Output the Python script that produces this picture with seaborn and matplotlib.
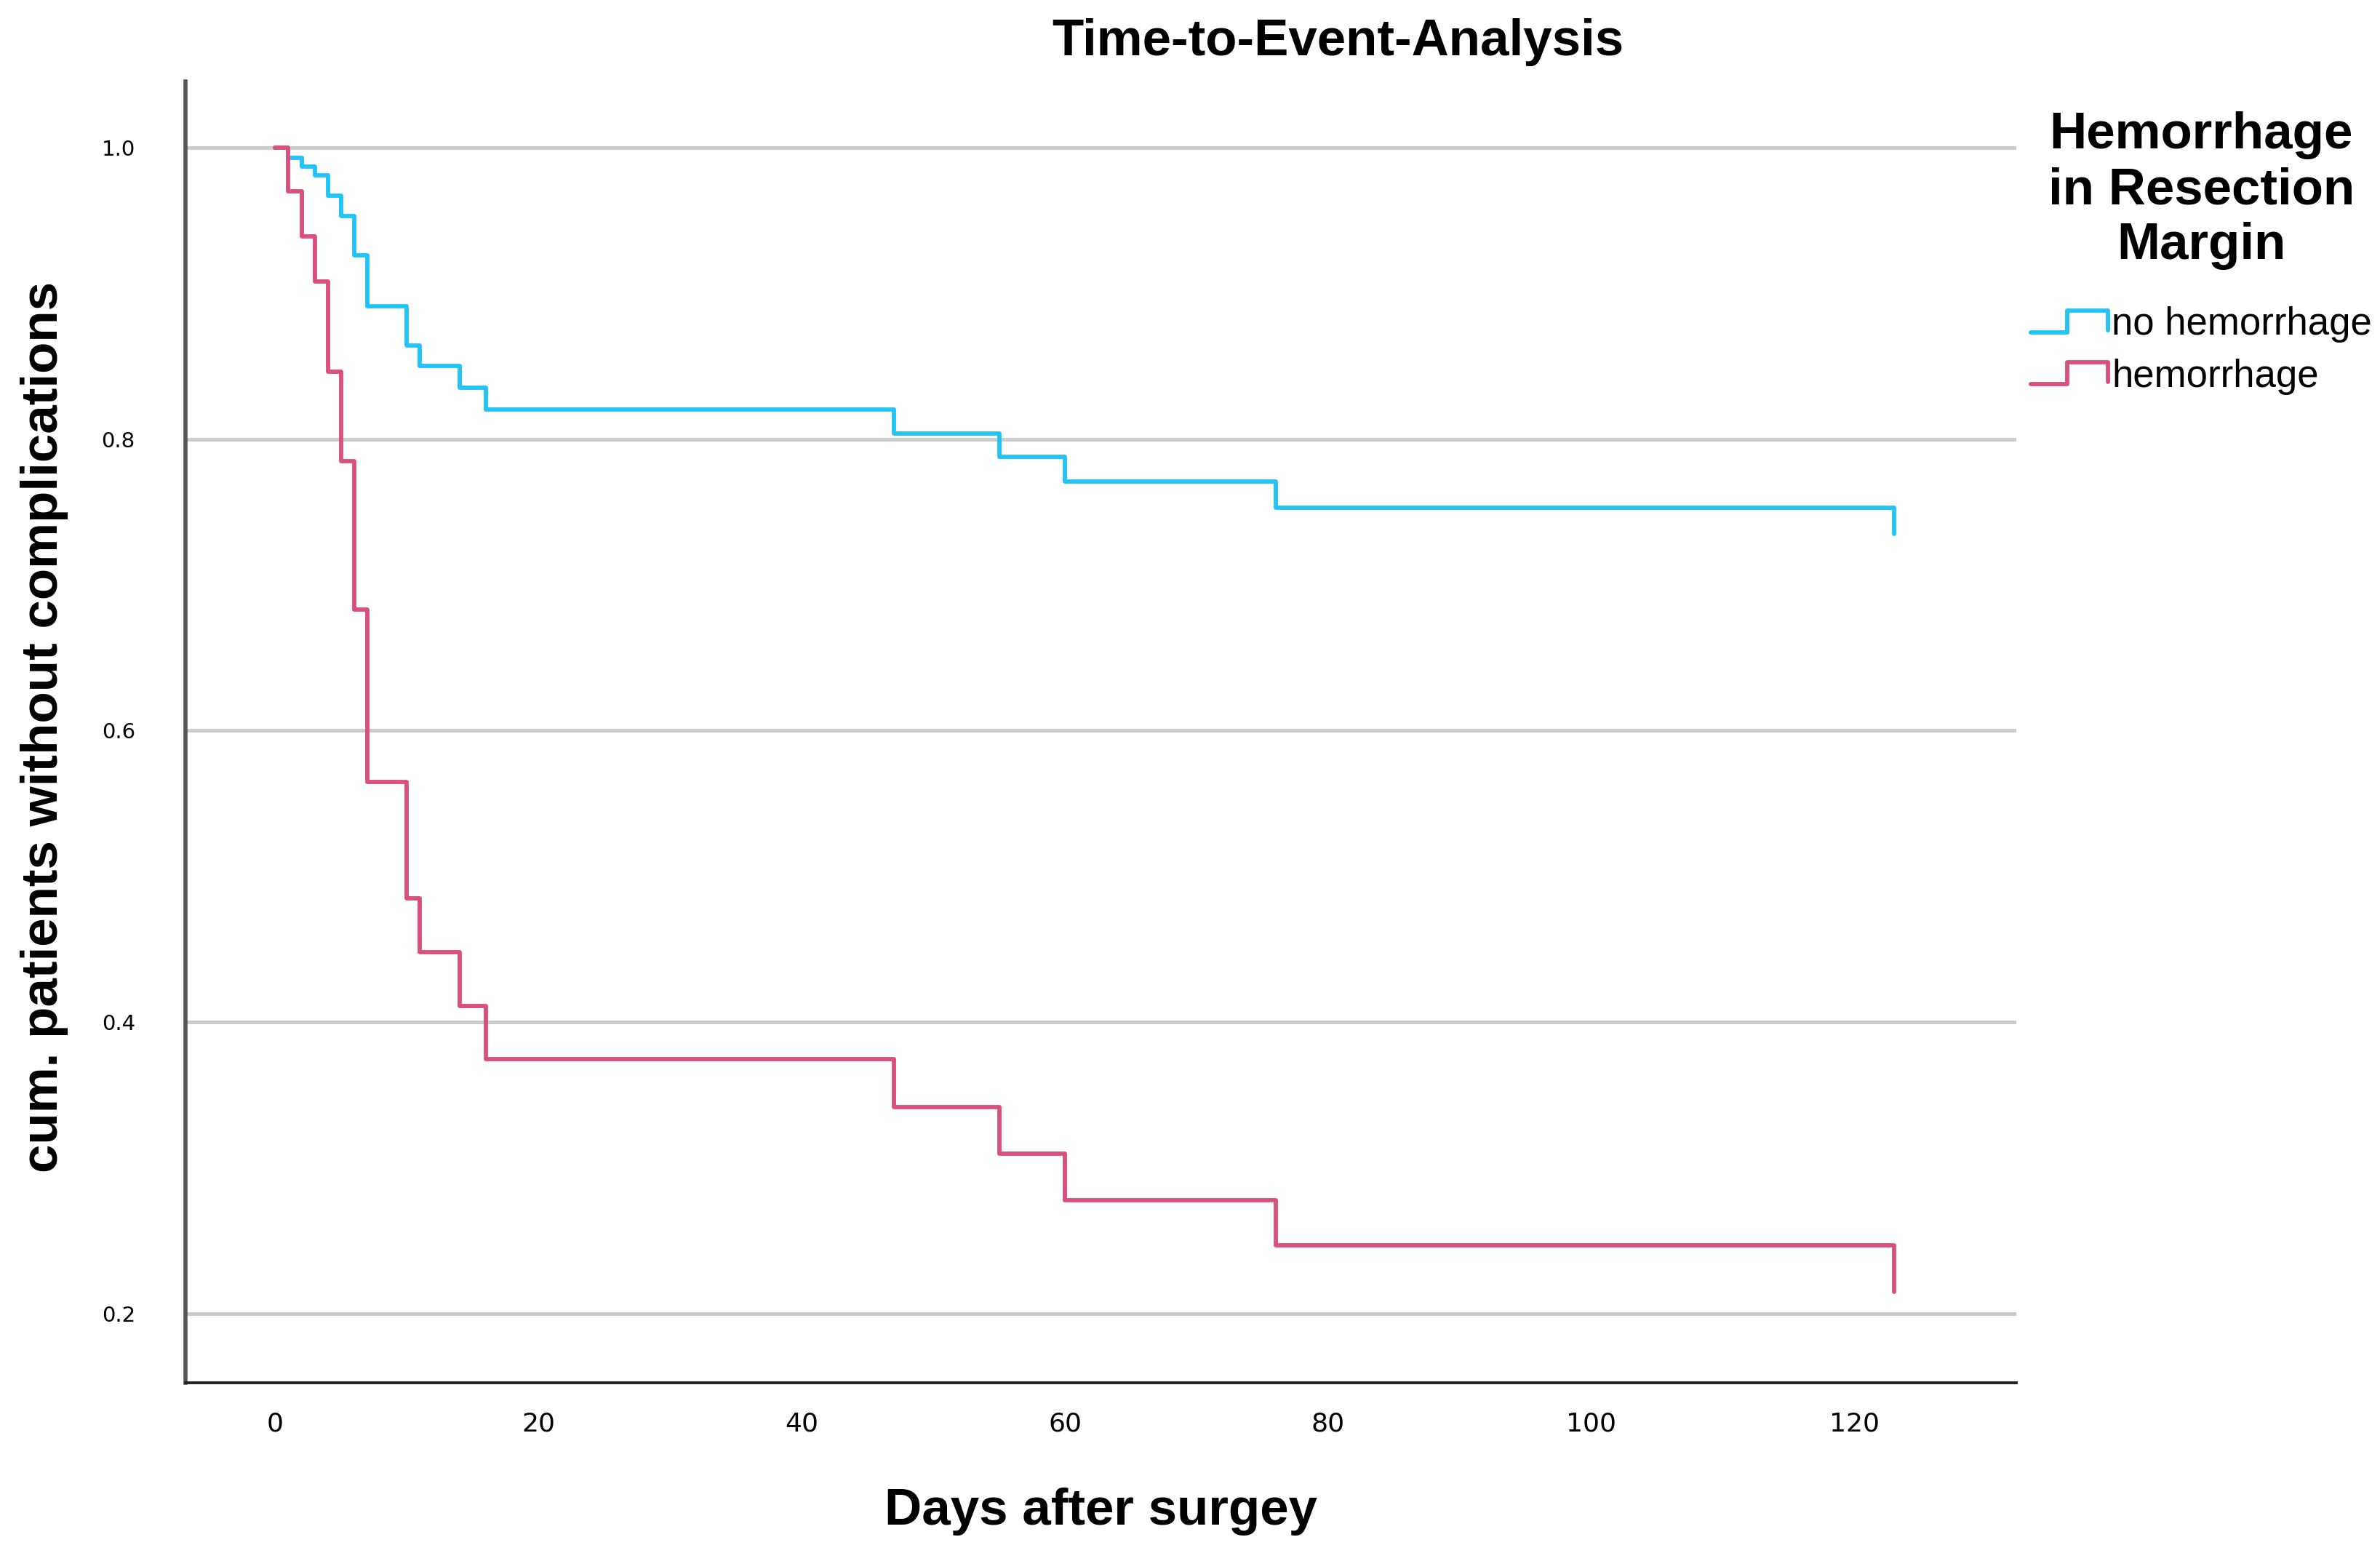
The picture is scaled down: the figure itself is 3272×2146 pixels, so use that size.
import pandas as pd
import matplotlib
matplotlib.use("Agg")
import matplotlib.pyplot as plt
import seaborn as sns
from matplotlib.lines import Line2D
from matplotlib.legend_handler import HandlerBase

# Kaplan-Meier style estimates
days = [0, 1, 2, 3, 4, 5, 6, 7, 10, 11, 14, 16, 47, 55, 60, 76, 123]
no_hemorrhage = [1.0, 0.993, 0.987, 0.981, 0.967, 0.953, 0.926, 0.891, 0.864,
                 0.850, 0.835, 0.820, 0.804, 0.788, 0.771, 0.753, 0.735]
hemorrhage = [1.0, 0.970, 0.939, 0.908, 0.846, 0.785, 0.683, 0.565, 0.485,
              0.448, 0.411, 0.375, 0.342, 0.310, 0.278, 0.247, 0.215]
group_names = ["no hemorrhage", "hemorrhage"]
y_ticks = [0.2, 0.4, 0.6, 0.8, 1.0]
x_ticks = [0, 20, 40, 60, 80, 100, 120]

df = pd.concat([
    pd.DataFrame({"days": days, "surv": no_hemorrhage, "group": group_names[0]}),
    pd.DataFrame({"days": days, "surv": hemorrhage, "group": group_names[1]}),
], ignore_index=True)

sns.set_style("white")
plt.rcParams["font.family"] = ["Liberation Sans", "DejaVu Sans"]
plt.rcParams["text.color"] = "black"
plt.rcParams["axes.labelcolor"] = "black"
plt.rcParams["xtick.color"] = "black"
plt.rcParams["ytick.color"] = "black"

palette = {"no hemorrhage": "#22c4f7", "hemorrhage": "#d9507c"}


class StepHandler(HandlerBase):
    # legend handle drawn as a little step, like the SPSS survival legend
    def create_artists(self, legend, orig_handle, xdescent, ydescent,
                       width, height, fontsize, trans):
        x0, y0 = -xdescent, -ydescent
        xs = [x0, x0 + 0.47 * width, x0 + 0.47 * width, x0 + width, x0 + width]
        ys = [y0, y0, y0 + height, y0 + height, y0 + 0.1 * height]
        line = Line2D(xs, ys, color=orig_handle.get_color(), lw=orig_handle.get_linewidth())
        line.set_transform(trans)
        return [line]


fig = plt.figure(figsize=(16.365, 10.73), dpi=200)
ax = fig.add_axes([0.078, 0.114, 0.769, 0.834])

for yv in y_ticks:
    ax.axhline(yv, color="#cbcbcb", lw=1.8, zorder=0)

sns.lineplot(data=df, x="days", y="surv", hue="group", palette=palette,
             estimator=None, sort=False, drawstyle="steps-post", lw=2.1, ax=ax)

ax.set_xlim(-6.8, 132.3)
ax.set_ylim(0.1526, 1.0454)
ax.set_xticks(x_ticks)
ax.set_yticks(y_ticks)
ax.set_yticklabels([f"{v:.1f}" for v in y_ticks], fontsize=10.5, family="DejaVu Sans")
ax.set_xticklabels([str(v) for v in x_ticks], fontsize=13, family="DejaVu Sans")
ax.tick_params(axis="y", length=0, pad=25)
ax.tick_params(axis="x", length=0, pad=14)

sns.despine(ax=ax, top=True, right=True)
ax.spines["left"].set_color("#555555")
ax.spines["left"].set_linewidth(2)
ax.spines["bottom"].set_color("#222222")
ax.spines["bottom"].set_linewidth(1.4)

ax.set_xlabel("Days after surgey", fontsize=25.5, fontweight="bold")
ax.set_ylabel("cum. patients without complications", fontsize=25.5, fontweight="bold")
ax.xaxis.set_label_coords(0.5, -0.08)
ax.yaxis.set_label_coords(-0.064, 0.504)

fig.text(0.562, 0.973, "Time-to-Event-Analysis", ha="center", va="center",
         fontsize=25.5, fontweight="bold")

handles, labels = ax.get_legend_handles_labels()
if ax.get_legend() is not None:
    ax.get_legend().remove()
leg = fig.legend(handles, labels, handler_map={h: StepHandler() for h in handles},
                 title="Hemorrhage\nin Resection\nMargin", loc="upper left",
                 bbox_to_anchor=(0.845, 0.941), frameon=False, fontsize=19,
                 title_fontproperties={"size": 25.5, "weight": "bold"},
                 handlelength=2.0, handleheight=0.5, handletextpad=0.1,
                 labelspacing=0.4, borderpad=0)
leg.get_title().set_multialignment("center")
leg._legend_box.sep = 18

fig.savefig("out.png", dpi=200)
